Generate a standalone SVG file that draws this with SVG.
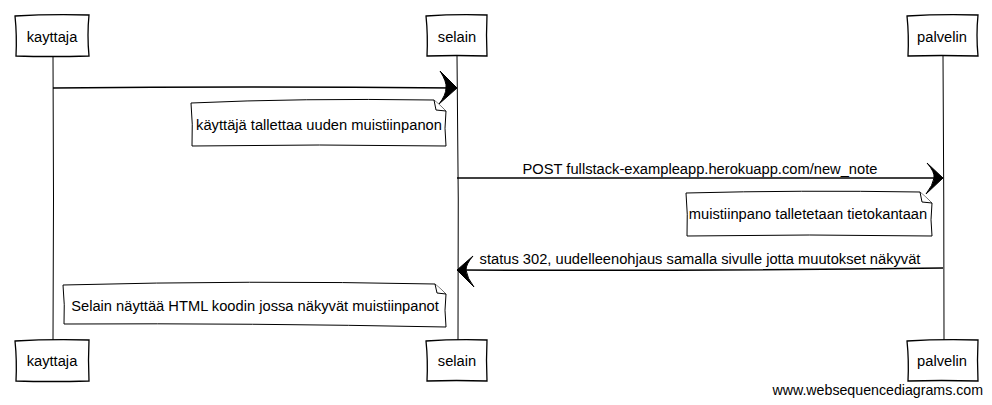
<svg xmlns="http://www.w3.org/2000/svg" width="992" height="405" viewBox="0 0 992 405">
<style>
.box{fill:#fff;stroke:#000;stroke-width:1.3}
.life{fill:none;stroke:#000;stroke-width:1}
.msg{fill:none;stroke:#000;stroke-width:1.5}
.head{fill:#000;stroke:#000;stroke-width:1}
.note{fill:#fff;stroke:#000;stroke-width:1}
.t{font-family:"Liberation Sans",Arial,sans-serif;font-size:14.7px;fill:#000}
.f{font-family:"Liberation Sans",Arial,sans-serif;font-size:14.2px;fill:#000}
</style>
<rect width="992" height="405" fill="#fff"/>
<g id="lifelines">
<path class="life" d="M53 56 Q54 200 53 340"/>
<path class="life" d="M457 56 Q459 200 458 340"/>
<path class="life" d="M943 56 Q944 200 944 340"/>
</g>
<g id="kayttaja-top"><path class="box" d="M15 16 Q50 14 89 15 Q87 35 89 56 Q50 57 16 56 Q17 35 15 16Z"/><text class="t" x="52" y="42" text-anchor="middle">kayttaja</text></g>
<g id="selain-top"><path class="box" d="M426 16 Q456 14 487 15 Q486 35 487 56 Q456 55 427 56 Q428 35 426 16Z"/><text class="t" x="457" y="42" text-anchor="middle">selain</text></g>
<g id="palvelin-top"><path class="box" d="M907 16 Q940 14 978 15 Q976 35 978 56 Q940 55 908 56 Q909 35 907 16Z"/><text class="t" x="942" y="42" text-anchor="middle">palvelin</text></g>
<g id="kayttaja-bottom"><path class="box" d="M15 341 Q50 339 89 340 Q88 360 89 381 Q50 382 16 381 Q17 360 15 341Z"/><text class="t" x="52" y="366" text-anchor="middle">kayttaja</text></g>
<g id="selain-bottom"><path class="box" d="M426 341 Q456 339 487 340 Q486 360 487 381 Q456 380 427 381 Q428 360 426 341Z"/><text class="t" x="457" y="366" text-anchor="middle">selain</text></g>
<g id="palvelin-bottom"><path class="box" d="M907 341 Q940 339 978 340 Q977 360 978 381 Q940 380 908 381 Q909 360 907 341Z"/><text class="t" x="942" y="366" text-anchor="middle">palvelin</text></g>
<g id="connectors">
<path class="msg" d="M53 88 Q250 86 454 88"/>
<path class="head" d="M457 88 L440 71 Q447 82 446 88 Q446 95 439 104 Z"/>
<path class="msg" d="M457 178 Q700 177 940 178"/>
<path class="head" d="M943 178 L927 163 Q935 172 934 178 Q933 185 926 194 Z"/>
<path class="msg" d="M943 268 Q700 271 460 270"/>
<path class="head" d="M457 270 L473 256 Q466 264 466 270 Q467 278 474 287 Z"/>
<text class="t" x="700" y="174" text-anchor="middle">POST fullstack-exampleapp.herokuapp.com/new_note</text>
<text class="t" x="700" y="264" text-anchor="middle">status 302, uudelleenohjaus samalla sivulle jotta muutokset näkyvät</text>
</g>
<g id="note1"><path class="note" d="M191 103 Q300 98 434 100 L446 111 Q444 128 446 146 Q320 144 192 146 Q193 124 191 103Z"/><path class="note" d="M434 100 L436 110 L446 111"/><text class="t" x="319" y="130" text-anchor="middle">käyttäjä tallettaa uuden muistiinpanon</text></g>
<g id="note2"><path class="note" d="M686 193 Q800 190 920 192 L932 203 Q930 220 932 236 Q810 234 687 236 Q688 214 686 193Z"/><path class="note" d="M920 192 L922 202 L932 203"/><text class="t" x="808" y="219" text-anchor="middle">muistiinpano talletetaan tietokantaan</text></g>
<g id="note3"><path class="note" d="M63 285 Q250 280 435 284 L446 294 Q444 310 446 327 Q250 323 64 324 Q65 305 63 285Z"/><path class="note" d="M435 284 L437 293 L446 294"/><text class="t" x="255" y="311" text-anchor="middle">Selain näyttää HTML koodin jossa näkyvät muistiinpanot</text></g>
<text class="f" x="983" y="395" text-anchor="end">www.websequencediagrams.com</text>
</svg>
